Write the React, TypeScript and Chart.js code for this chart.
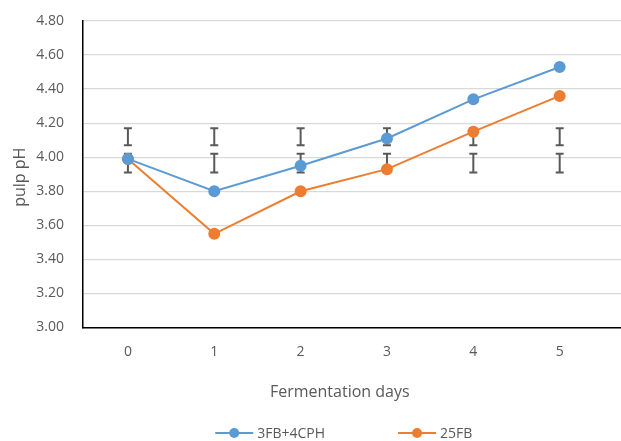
import React, { useEffect, useRef } from 'react';
import { Chart, registerables } from 'chart.js';

Chart.register(...registerables);

const days = [0, 1, 2, 3, 4, 5];
const seriesNames = ['3FB+4CPH', '25FB'];
const series3FB4CPH = [3.99, 3.80, 3.95, 4.11, 4.34, 4.53];
const series25FB = [3.99, 3.55, 3.80, 3.93, 4.15, 4.36];
const errUpperLow = [4.07, 4.07, 4.07, 4.07, 4.07, 4.07];
const errUpperHigh = [4.17, 4.17, 4.17, 4.17, 4.17, 4.17];
const errLowerLow = [3.91, 3.91, 3.91, 3.91, 3.91, 3.91];
const errLowerHigh = [4.02, 4.02, 4.02, 4.02, 4.02, 4.02];
const yTicks = [3.0, 3.2, 3.4, 3.6, 3.8, 4.0, 4.2, 4.4, 4.6, 4.8];
const xTitle = 'Fermentation days';
const yTitle = 'pulp pH';

const BLUE = '#5B9BD5';
const ORANGE = '#ED7D31';
const TEXT = '#595959';
const FONT = '"Open Sans", "Noto Sans", sans-serif';

const errorBarPlugin = {
  id: 'errorBars',
  beforeDatasetsDraw(chart: any) {
    const { ctx, scales } = chart;
    const x = scales.x;
    const y = scales.y;
    ctx.save();
    ctx.strokeStyle = '#595959';
    ctx.lineWidth = 2;
    days.forEach((d, i) => {
      const px = x.getPixelForValue(d);
      const bars = [
        [errUpperLow[i], errUpperHigh[i]],
        [errLowerLow[i], errLowerHigh[i]],
      ];
      bars.forEach(([lo, hi]) => {
        const y1 = y.getPixelForValue(lo);
        const y2 = y.getPixelForValue(hi);
        ctx.beginPath();
        ctx.moveTo(px, y1);
        ctx.lineTo(px, y2);
        ctx.moveTo(px - 4, y1);
        ctx.lineTo(px + 4, y1);
        ctx.moveTo(px - 4, y2);
        ctx.lineTo(px + 4, y2);
        ctx.stroke();
      });
    });
    ctx.restore();
  },
};

const textPlugin = {
  id: 'texts',
  afterDraw(chart: any) {
    const { ctx, chartArea, scales } = chart;
    const x = scales.x;
    ctx.save();
    ctx.fillStyle = TEXT;
    // y title
    ctx.font = `16px ${FONT}`;
    ctx.textAlign = 'center';
    ctx.textBaseline = 'middle';
    ctx.save();
    ctx.translate(20, (chartArea.top + chartArea.bottom) / 2 + 3);
    ctx.rotate(-Math.PI / 2);
    ctx.fillText(yTitle, 0, 0);
    ctx.restore();
    // x title
    const midX = (x.getPixelForValue(days[0]) + x.getPixelForValue(days[days.length - 1])) / 2 - 4;
    ctx.fillText(xTitle, midX, 392);
    // legend
    ctx.font = `14px ${FONT}`;
    const colors = [BLUE, ORANGE];
    const lineW = 38;
    const gap = 4;
    const spacing = 73;
    const widths = seriesNames.map((n) => lineW + gap + ctx.measureText(n).width);
    const total = widths.reduce((a, b) => a + b, 0) + spacing * (widths.length - 1);
    let cx = midX + 4 - total / 2;
    const ly = 433;
    seriesNames.forEach((n, i) => {
      ctx.strokeStyle = colors[i];
      ctx.lineWidth = 2;
      ctx.beginPath();
      ctx.moveTo(cx, ly);
      ctx.lineTo(cx + lineW, ly);
      ctx.stroke();
      ctx.fillStyle = colors[i];
      ctx.beginPath();
      ctx.arc(cx + lineW / 2, ly, 5, 0, Math.PI * 2);
      ctx.fill();
      ctx.fillStyle = TEXT;
      ctx.textAlign = 'left';
      ctx.fillText(n, cx + lineW + gap, ly + 1);
      cx += widths[i] + spacing;
    });
    ctx.restore();
  },
};

const clearPadding = (s: any) => {
  s.paddingTop = 0;
  s.paddingBottom = 0;
  s.paddingLeft = 0;
  s.paddingRight = 0;
};

export default function App() {
  const ref = useRef<HTMLCanvasElement | null>(null);

  useEffect(() => {
    document.body.style.margin = '0';
    const canvas = ref.current;
    if (!canvas) return;
    const chart = new Chart(canvas, {
      type: 'line',
      data: {
        datasets: [
          {
            label: seriesNames[0],
            data: days.map((d, i) => ({ x: d, y: series3FB4CPH[i] })),
            borderColor: BLUE,
            backgroundColor: BLUE,
            borderWidth: 2,
            pointRadius: 5,
            pointBackgroundColor: BLUE,
            pointBorderColor: BLUE,
            tension: 0,
          },
          {
            label: seriesNames[1],
            data: days.map((d, i) => ({ x: d, y: series25FB[i] })),
            borderColor: ORANGE,
            backgroundColor: ORANGE,
            borderWidth: 2,
            pointRadius: 5,
            pointBackgroundColor: ORANGE,
            pointBorderColor: ORANGE,
            tension: 0,
          },
        ],
      },
      options: {
        animation: false,
        responsive: false,
        maintainAspectRatio: false,
        layout: { autoPadding: false, padding: { top: 21, right: 0, left: 0, bottom: 0 } },
        plugins: {
          legend: { display: false },
          tooltip: { enabled: false },
        },
        scales: {
          x: {
            type: 'linear',
            min: -0.52,
            max: 5.71,
            afterFit: (s: any) => {
              s.height = 113.5;
              clearPadding(s);
            },
            afterBuildTicks: (s: any) => {
              s.ticks = days.map((v) => ({ value: v }));
            },
            grid: { display: false, drawTicks: false },
            border: { display: true, color: '#000000', width: 1.5 },
            ticks: {
              padding: 16,
              color: TEXT,
              font: { family: FONT, size: 14 },
              callback: (v: any) => String(v),
            },
          },
          y: {
            min: 3.0,
            max: 4.8,
            afterFit: (s: any) => {
              s.width = 83;
              clearPadding(s);
            },
            afterBuildTicks: (s: any) => {
              s.ticks = yTicks.map((v) => ({ value: v }));
            },
            grid: { color: '#d9d9d9', lineWidth: 1.3, drawTicks: false },
            border: { display: true, color: '#000000', width: 1.5 },
            ticks: {
              padding: 19,
              color: TEXT,
              font: { family: FONT, size: 14 },
              callback: (v: any) => Number(v).toFixed(2),
            },
          },
        },
      },
      plugins: [errorBarPlugin, textPlugin],
    });
    return () => chart.destroy();
  }, []);

  return (
    <div style={{ width: 621, height: 441 }}>
      <canvas ref={ref} width={621} height={441} style={{ display: 'block' }} />
    </div>
  );
}
